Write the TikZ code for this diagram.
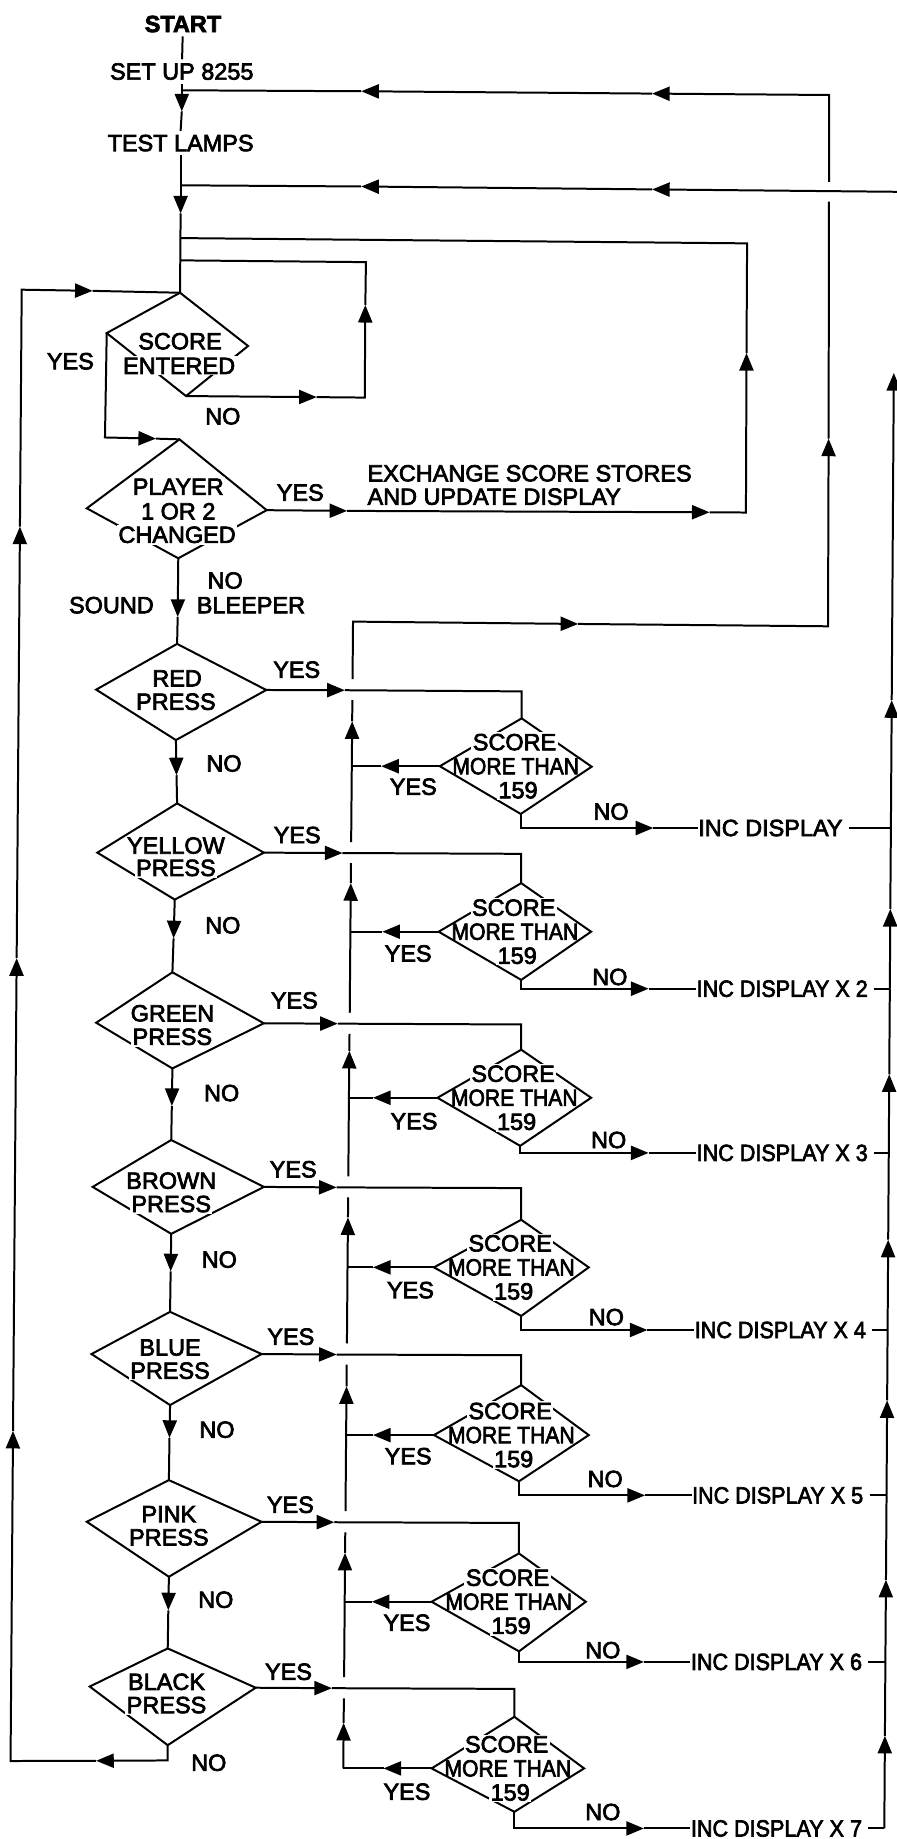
\documentclass[tikz,border=0pt]{standalone}
\usepackage{fontspec}
\usepackage{graphicx}
\setmainfont{Liberation Sans}[FakeBold=3]
\usetikzlibrary{arrows.meta}
\newcommand\lf{\fontsize{10pt}{10pt}\selectfont}
\newcommand\lfb{\fontsize{10pt}{10pt}\selectfont\bfseries}
\newcommand\sqzA[1]{\scalebox{0.92}[1]{#1}}
\newcommand\sqzB[1]{\scalebox{0.9}[1]{#1}}
\begin{document}
\begin{tikzpicture}[x=0.5pt,y=-0.5pt,
  ln/.style={line width=0.85pt,line join=miter},
  ar/.style={ln,-{Triangle[length=7.5pt,width=6pt]}},
  txt/.style={font=\lf,inner xsep=0pt,inner ysep=1.5pt},
  dtxt/.style={font=\lf,inner sep=0.6pt,fill=white},
  ntxt/.style={font=\lf,inner sep=0pt}]
\useasboundingbox (0,0) rectangle (764,1568);
\fill[white] (0,0) rectangle (764,1568);

% ---------- main column coordinates
\coordinate (j1) at (155,77);
\coordinate (a1) at (155,95);
\coordinate (j2) at (154,158);
\coordinate (a2) at (154,182);
\coordinate (j3) at (154,203);
\coordinate (j4) at (154,222);
% score entered
\coordinate (se-n) at (153.5,249.6);
\coordinate (se-e) at (211.5,295);
\coordinate (se-s) at (158.6,337.7);
\coordinate (se-w) at (91,284);
% player changed
\coordinate (pl-n) at (153,374.6);
\coordinate (pl-e) at (227.4,435);
\coordinate (pl-s) at (152,476);
\coordinate (pl-w) at (74,433.4);
% press diamonds
\coordinate (rd-n) at (151,549);   \coordinate (rd-e) at (227,588.3);
\coordinate (rd-s) at (150,631);   \coordinate (rd-w) at (82,588);
\coordinate (ye-n) at (151,685);   \coordinate (ye-e) at (225,727);
\coordinate (ye-s) at (149,767);   \coordinate (ye-w) at (83,727);
\coordinate (gr-n) at (147,829);   \coordinate (gr-e) at (225,872.5);
\coordinate (gr-s) at (147,911);   \coordinate (gr-w) at (82,872);
\coordinate (br-n) at (146,972);   \coordinate (br-e) at (225,1012);
\coordinate (br-s) at (146,1052);  \coordinate (br-w) at (79,1012);
\coordinate (bl-n) at (145,1118.5);\coordinate (bl-e) at (223,1154.5);
\coordinate (bl-s) at (145,1198);  \coordinate (bl-w) at (78,1154.5);
\coordinate (pk-n) at (144,1262);  \coordinate (pk-e) at (223,1297.5);
\coordinate (pk-s) at (144,1344.4);\coordinate (pk-w) at (74,1297.5);
\coordinate (bk-n) at (143,1405.5);\coordinate (bk-e) at (218,1439);
\coordinate (bk-s) at (143,1488);  \coordinate (bk-w) at (76.5,1438);
% score more than 159 diamonds
\coordinate (s1-n) at (444.8,612.5); \coordinate (s1-e) at (504.5,653.7);
\coordinate (s1-s) at (444,694);     \coordinate (s1-w) at (375,653.3);
\coordinate (s2-n) at (444.4,753);   \coordinate (s2-e) at (504,794.4);
\coordinate (s2-s) at (444.4,835.5); \coordinate (s2-w) at (374,794.4);
\coordinate (s3-n) at (444.4,895);   \coordinate (s3-e) at (504,936);
\coordinate (s3-s) at (443.5,977);   \coordinate (s3-w) at (373,936);
\coordinate (s4-n) at (444.4,1040);  \coordinate (s4-e) at (502,1080.6);
\coordinate (s4-s) at (444.4,1122);  \coordinate (s4-w) at (370,1080.6);
\coordinate (s5-n) at (444.4,1181);  \coordinate (s5-e) at (502,1223.6);
\coordinate (s5-s) at (442.5,1263);  \coordinate (s5-w) at (370,1223.6);
\coordinate (s6-n) at (442.5,1324.5);\coordinate (s6-e) at (499.5,1365.7);
\coordinate (s6-s) at (442.5,1408);  \coordinate (s6-w) at (368,1365.7);
\coordinate (s7-n) at (438.6,1463.8);\coordinate (s7-e) at (498,1507.8);
\coordinate (s7-s) at (438.6,1544.8);\coordinate (s7-w) at (368,1507.8);

% ---------- diamonds
\foreach \d in {se,pl,rd,ye,gr,br,bl,pk,bk,s1,s2,s3,s4,s5,s6,s7}{
  \draw[ln] (\d-n) -- (\d-e) -- (\d-s) -- (\d-w) -- cycle;
}

% ---------- top texts
\node[txt,font=\lfb] (start) at (156,20.5) {START};
\node[txt] (setup) at (155,61) {SET UP 8255};
\node[txt] (test) at (154,122) {TEST LAMPS};
\draw[ln] (start) -- (setup);
\draw[ar] (setup.south) -- (a1);
\draw[ln] (a1) -- (test.north);
\draw[ar] (test.south) -- (a2);
\draw[ln] (a2) -- (se-n);

% ---------- return line 1 (via x=706)
\coordinate (tc) at (301,530);
\coordinate (tca) at (493,532);
\coordinate (c2) at (706,534);
\coordinate (v2t) at (706.5,374);
\coordinate (v2g1) at (706.8,172);
\coordinate (v2g2) at (706.9,155);
\coordinate (v2top) at (707,81);
\coordinate (l1a) at (556,79.8);
\coordinate (l1b) at (308,77.8);
\draw[ar] (tca) -- (c2) -- (v2t);
\draw[ln] (v2t) -- (v2g1);
\draw[ar] (v2g2) -- (v2top) -- (l1a);
\draw[ar] (l1a) -- (l1b);
\draw[ln] (l1b) -- (j1);

% ---------- return line 2 (from right edge)
\coordinate (l2s) at (772,163.6);
\coordinate (l2a) at (556,161.5);
\coordinate (l2b) at (308,159);
\draw[ar] (l2s) -- (l2a);
\draw[ar] (l2a) -- (l2b);
\draw[ln] (l2b) -- (j2);

% ---------- score entered loop
\coordinate (n1a) at (270,338.6);
\coordinate (n1c) at (311,339);
\coordinate (n1u) at (311.5,260);
\coordinate (n1t) at (312,223.5);
\draw[ar] (se-s) -- (n1a);
\draw[ar] (n1a) -- (n1c) -- (n1u);
\draw[ln] (n1u) -- (n1t) -- (j4);
\coordinate (y1c) at (89.5,373);
\coordinate (y1a) at (133,374);
\draw[ar] (se-w) -- (y1c) -- (y1a);
\draw[ln] (y1a) -- (pl-n);
\node[dtxt] at (153.5,291) {SCORE};
\node[dtxt] at (152.7,312) {ENTERED};
\node[ntxt] at (60,308) {YES};
\node[ntxt] at (190,355) {NO};

% ---------- player changed
\coordinate (p1) at (296,435.6);
\coordinate (p2) at (605,436.8);
\coordinate (p3) at (636,437);
\coordinate (p4) at (636.5,301);
\coordinate (p5) at (637,207.5);
\draw[ar] (pl-e) -- (p1);
\draw[ar] (p1) -- (p2);
\draw[ar] (p2) -- (p3) -- (p4);
\draw[ln] (p4) -- (p5) -- (j3);
\node[dtxt] at (152,415) {PLAYER};
\node[dtxt] at (152,436) {1 OR 2};
\node[dtxt] at (151,456) {CHANGED};
\node[ntxt] at (256,420) {YES};
\node[ntxt,anchor=west] at (313,403.6) {EXCHANGE SCORE STORES};
\node[ntxt,anchor=west] at (313,423.5) {AND UPDATE DISPLAY};
\coordinate (pn) at (151.5,526);
\draw[ar] (pl-s) -- (pn);
\draw[ln] (pn) -- (rd-n);
\node[ntxt] at (192,495) {NO};
\node[ntxt] at (95,516) {SOUND};
\node[ntxt] at (214,516) {BLEEPER};

% ---------- press chain (NO)
\coordinate (na1) at (150.5,661);
\coordinate (na2) at (148,800);
\coordinate (na3) at (146.5,943);
\coordinate (na4) at (145.5,1084);
\coordinate (na5) at (144.5,1226);
\coordinate (na6) at (143.5,1373);
\draw[ar] (rd-s) -- (na1); \draw[ln] (na1) -- (ye-n);
\draw[ar] (ye-s) -- (na2); \draw[ln] (na2) -- (gr-n);
\draw[ar] (gr-s) -- (na3); \draw[ln] (na3) -- (br-n);
\draw[ar] (br-s) -- (na4); \draw[ln] (na4) -- (bl-n);
\draw[ar] (bl-s) -- (na5); \draw[ln] (na5) -- (pk-n);
\draw[ar] (pk-s) -- (na6); \draw[ln] (na6) -- (bk-n);
\node[ntxt] at (191,651) {NO};
\node[ntxt] at (190,789) {NO};
\node[ntxt] at (189,932) {NO};
\node[ntxt] at (187,1074) {NO};
\node[ntxt] at (185,1219) {NO};
\node[ntxt] at (184,1364) {NO};

% ---------- press YES lines
\coordinate (rya) at (294,588.5);  \coordinate (ryc) at (444.8,589.5);
\coordinate (yya) at (292,727.3);  \coordinate (yyc) at (444.4,728);
\coordinate (gya) at (288,872.8);  \coordinate (gyc) at (444.4,873.5);
\coordinate (bya) at (287,1012.4); \coordinate (byc) at (444.4,1013);
\coordinate (uya) at (287,1154.9); \coordinate (uyc) at (444.4,1155.5);
\coordinate (pya) at (285,1297.9); \coordinate (pyc) at (442.5,1298.5);
\coordinate (kya) at (283,1439.4); \coordinate (kyc) at (438.6,1440);
\draw[ar] (rd-e) -- (rya); \draw[ln] (rya) -- (ryc) -- (s1-n);
\draw[ar] (ye-e) -- (yya); \draw[ln] (yya) -- (yyc) -- (s2-n);
\draw[ar] (gr-e) -- (gya); \draw[ln] (gya) -- (gyc) -- (s3-n);
\draw[ar] (br-e) -- (bya); \draw[ln] (bya) -- (byc) -- (s4-n);
\draw[ar] (bl-e) -- (uya); \draw[ln] (uya) -- (uyc) -- (s5-n);
\draw[ar] (pk-e) -- (pya); \draw[ln] (pya) -- (pyc) -- (s6-n);
\draw[ar] (bk-e) -- (kya); \draw[ln] (kya) -- (kyc) -- (s7-n);
\node[ntxt] at (253,571) {YES};
\node[ntxt] at (253.4,712) {YES};
\node[ntxt] at (251,853) {YES};
\node[ntxt] at (250,997) {YES};
\node[ntxt] at (248,1139.7) {YES};
\node[ntxt] at (247.6,1283) {YES};
\node[ntxt] at (246,1425.4) {YES};

% ---------- press texts
\node[dtxt] at (151,578.4) {RED};     \node[dtxt] at (150,598.3) {PRESS};
\node[dtxt] at (150,721) {YELLOW};    \node[dtxt] at (150,740) {PRESS};
\node[dtxt] at (147,864) {GREEN};     \node[dtxt] at (147,884) {PRESS};
\node[dtxt] at (146,1006.7) {BROWN};  \node[dtxt] at (146,1026.6) {PRESS};
\node[dtxt] at (145,1149) {BLUE};     \node[dtxt] at (145,1168.7) {PRESS};
\node[dtxt] at (144,1291) {PINK};     \node[dtxt] at (144,1310.8) {PRESS};
\node[dtxt] at (142,1434) {BLACK};    \node[dtxt] at (142,1453.8) {PRESS};

% ---------- score more than 159 texts
\node[dtxt] at (438.7,632.8) {SCORE};
\node[ntxt] at (439.7,653.3) {\sqzB{MORE THAN}};
\node[dtxt] at (441.7,673.8) {159};
\node[dtxt] at (438,773.9) {SCORE};
\node[ntxt] at (439,794.4) {\sqzB{MORE THAN}};
\node[dtxt] at (441,814.9) {159};
\node[dtxt] at (437.5,915.5) {SCORE};
\node[ntxt] at (438.5,936) {\sqzB{MORE THAN}};
\node[dtxt] at (440.5,956.5) {159};
\node[dtxt] at (435,1060.1) {SCORE};
\node[ntxt] at (436,1080.6) {\sqzB{MORE THAN}};
\node[dtxt] at (438,1101.1) {159};
\node[dtxt] at (435,1203.1) {SCORE};
\node[ntxt] at (436,1223.6) {\sqzB{MORE THAN}};
\node[dtxt] at (438,1244.1) {159};
\node[dtxt] at (432.8,1345.2) {SCORE};
\node[ntxt] at (433.8,1365.7) {\sqzB{MORE THAN}};
\node[dtxt] at (435.8,1386.2) {159};
\node[dtxt] at (432,1487.3) {SCORE};
\node[ntxt] at (433,1507.8) {\sqzB{MORE THAN}};
\node[dtxt] at (435,1528.3) {159};

% ---------- YES return vertical (x ~ 300) with hops
\coordinate (vj1) at (299.95,653.3); \coordinate (vt1) at (300.3,615);
\coordinate (g1b) at (300.4,597);    \coordinate (g1t) at (300.6,579);
\coordinate (vj2) at (298.75,794.4); \coordinate (vt2) at (299.1,753);
\coordinate (g2b) at (299.2,736);    \coordinate (g2t) at (299.4,718);
\coordinate (vj3) at (297.5,936);    \coordinate (vt3) at (297.9,896);
\coordinate (g3b) at (298,881.5);    \coordinate (g3t) at (298.2,863.5);
\coordinate (vj4) at (296.3,1080.6); \coordinate (vt4) at (296.7,1038);
\coordinate (g4b) at (296.8,1021);   \coordinate (g4t) at (297,1003);
\coordinate (vj5) at (295.1,1223.6); \coordinate (vt5) at (295.5,1182);
\coordinate (g5b) at (295.6,1163.5); \coordinate (g5t) at (295.8,1145.5);
\coordinate (vj6) at (293.9,1365.7); \coordinate (vt6) at (294.2,1324);
\coordinate (g6b) at (294.4,1306.5); \coordinate (g6t) at (294.6,1288.5);
\coordinate (vj7) at (292.7,1507.8); \coordinate (vt7) at (293,1469);
\coordinate (g7b) at (293.2,1448);   \coordinate (g7t) at (293.4,1430);
\draw[ar] (vj7) -- (vt7); \draw[ln] (vt7) -- (g7b);
\draw[ar] (g7t) -- (vj6) -- (vt6); \draw[ln] (vt6) -- (g6b);
\draw[ar] (g6t) -- (vj5) -- (vt5); \draw[ln] (vt5) -- (g5b);
\draw[ar] (g5t) -- (vj4) -- (vt4); \draw[ln] (vt4) -- (g4b);
\draw[ar] (g4t) -- (vj3) -- (vt3); \draw[ln] (vt3) -- (g3b);
\draw[ar] (g3t) -- (vj2) -- (vt2); \draw[ln] (vt2) -- (g2b);
\draw[ar] (g2t) -- (vj1) -- (vt1); \draw[ln] (vt1) -- (g1b);
\draw[ar] (g1t) -- (tc) -- (tca);

% ---------- score YES exits
\coordinate (s1-t) at (325,653.3);
\coordinate (s2-t) at (326,794.4);
\coordinate (s3-t) at (318,936);
\coordinate (s4-t) at (318,1080.6);
\coordinate (s5-t) at (318,1223.6);
\coordinate (s6-t) at (317,1365.7);
\coordinate (s7-t) at (327,1507.8);
\foreach \k in {1,...,7}{
  \draw[ar] (s\k-w) -- (s\k-t);
  \draw[ln] (s\k-t) -- (vj\k);
}
\node[ntxt] at (352.4,670.8) {YES};
\node[ntxt] at (348,813) {YES};
\node[ntxt] at (353,956) {YES};
\node[ntxt] at (350,1100) {YES};
\node[ntxt] at (348,1241.6) {YES};
\node[ntxt] at (347,1383.6) {YES};
\node[ntxt] at (347,1527.7) {YES};

% ---------- INC DISPLAY nodes
\node[ntxt,anchor=west] (inc1) at (595,706) {INC DISPLAY};
\node[ntxt,anchor=west] (inc2) at (593.6,843) {\sqzA{INC DISPLAY X 2}};
\node[ntxt,anchor=west] (inc3) at (593.6,983) {\sqzA{INC DISPLAY X 3}};
\node[ntxt,anchor=west] (inc4) at (592,1134) {\sqzA{INC DISPLAY X 4}};
\node[ntxt,anchor=west] (inc5) at (589.7,1275) {\sqzA{INC DISPLAY X 5}};
\node[ntxt,anchor=west] (inc6) at (588.7,1417) {\sqzA{INC DISPLAY X 6}};
\node[ntxt,anchor=west] (inc7) at (588.7,1559) {\sqzA{INC DISPLAY X 7}};

% ---------- score NO exits
\coordinate (s1-a) at (557,706);
\coordinate (s2-a) at (553,843);
\coordinate (s3-a) at (553,983);
\coordinate (s4-a) at (552,1134);
\coordinate (s5-a) at (550,1275);
\coordinate (s6-a) at (549,1417);
\coordinate (s7-a) at (549,1559);
\foreach \k in {1,...,7}{
  \draw[ar] (s\k-s) |- (s\k-a);
  \draw[ln] (s\k-a) -- (inc\k.west);
}
\node[ntxt] at (521,692) {NO};
\node[ntxt] at (520,833) {NO};
\node[ntxt] at (519,972) {NO};
\node[ntxt] at (517,1123) {NO};
\node[ntxt] at (516,1261) {NO};
\node[ntxt] at (514,1407) {NO};
\node[ntxt] at (514,1545) {NO};

% ---------- right collecting vertical
\coordinate (v3-7) at (754,1559);
\coordinate (t3-7) at (754.5,1480);
\coordinate (v3-6) at (754.9,1417);
\coordinate (t3-6) at (755.4,1347);
\coordinate (v3-5) at (755.9,1275);
\coordinate (t3-5) at (756.4,1194);
\coordinate (v3-4) at (756.8,1134);
\coordinate (t3-4) at (757.3,1057);
\coordinate (v3-3) at (757.8,983);
\coordinate (t3-3) at (758.2,916);
\coordinate (v3-2) at (758.7,843);
\coordinate (t3-2) at (759.1,775);
\coordinate (v3-1) at (759.6,706);
\coordinate (t3-1) at (760.3,597);
\coordinate (t3-0) at (762.1,318);
\foreach \k in {1,...,7}{
  \draw[ln,shorten <=2.5pt] (inc\k.east) -- (v3-\k);
}
\draw[ar] (v3-7) -- (t3-7); \draw[ln] (t3-7) -- (v3-6);
\draw[ar] (v3-6) -- (t3-6); \draw[ln] (t3-6) -- (v3-5);
\draw[ar] (v3-5) -- (t3-5); \draw[ln] (t3-5) -- (v3-4);
\draw[ar] (v3-4) -- (t3-4); \draw[ln] (t3-4) -- (v3-3);
\draw[ar] (v3-3) -- (t3-3); \draw[ln] (t3-3) -- (v3-2);
\draw[ar] (v3-2) -- (t3-2); \draw[ln] (t3-2) -- (v3-1);
\draw[ar] (v3-1) -- (t3-1);
\draw[ar] (t3-1) -- (t3-0);

% ---------- left loop from BLACK NO
\coordinate (lb1) at (143,1501);
\coordinate (lba) at (82,1501.3);
\coordinate (lb2) at (9,1501.5);
\coordinate (lu1) at (11.1,1220);
\coordinate (lu2) at (14.2,817);
\coordinate (lu3) at (17,449);
\coordinate (lt) at (18.5,247);
\coordinate (lta) at (79,248);
\draw[ar] (bk-s) -- (lb1) -- (lba);
\draw[ar] (lba) -- (lb2) -- (lu1);
\draw[ar] (lu1) -- (lu2);
\draw[ar] (lu2) -- (lu3);
\draw[ar] (lu3) -- (lt) -- (lta);
\draw[ln] (lta) -- (se-n);
\node[ntxt] at (178,1503) {NO};
\end{tikzpicture}
\end{document}
